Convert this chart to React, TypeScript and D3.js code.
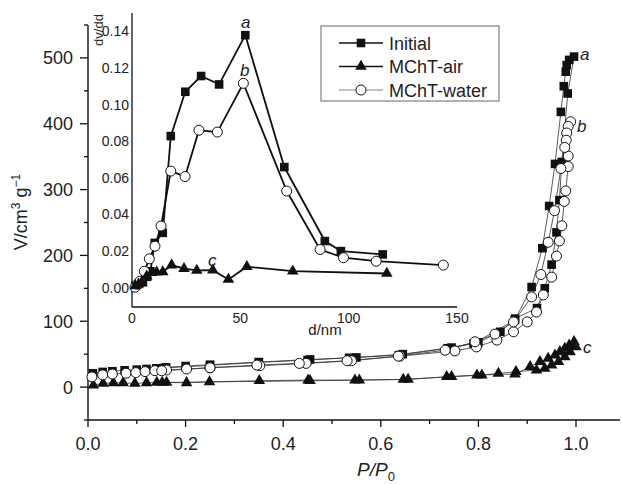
import * as d3 from "d3";

// isotherms: [P/P0, V] in measurement order (adsorption, then desorption)
const initialIso: [number, number][] = [
  [0.01, 21], [0.03, 23], [0.05, 24], [0.075, 25.5], [0.1, 26.5], [0.12, 27.5],
  [0.14, 28.5], [0.16, 30], [0.2, 32], [0.25, 34], [0.35, 38], [0.455, 42],
  [0.55, 45], [0.645, 50], [0.745, 60], [0.8, 68], [0.845, 84], [0.875, 104],
  [0.92, 120], [0.936, 150], [0.95, 186], [0.96, 235], [0.966, 284], [0.971, 342],
  [0.983, 446], [0.996, 502],
  [0.986, 497], [0.981, 489], [0.979, 479], [0.975, 457], [0.969, 418], [0.957, 339],
  [0.945, 275], [0.931, 211], [0.909, 152], [0.875, 102], [0.79, 66], [0.737, 59],
  [0.637, 48.5], [0.535, 44.5], [0.45, 41], [0.35, 37.5], [0.25, 33], [0.155, 29],
];

const airIso: [number, number][] = [
  [0.011, 3], [0.031, 5.6], [0.052, 6.5], [0.072, 6.5], [0.096, 5.6], [0.12, 6.5],
  [0.141, 7], [0.161, 7], [0.202, 6.5], [0.249, 8], [0.351, 9.6], [0.451, 10.6],
  [0.547, 10.6], [0.646, 11.7], [0.745, 15.7], [0.807, 18.2], [0.841, 20.8],
  [0.877, 23.3], [0.919, 25.8], [0.936, 28.4], [0.95, 33.4], [0.964, 38.5],
  [0.977, 46], [0.988, 53.6], [1.0, 61],
  [0.996, 69], [0.986, 63.8], [0.977, 58.8], [0.967, 53.6], [0.957, 48.6],
  [0.943, 43.6], [0.926, 38.5], [0.906, 30.9], [0.875, 19.8], [0.797, 18.2],
  [0.735, 15.7], [0.656, 11.7], [0.556, 10.6], [0.455, 9.6], [0.152, 7],
];

const waterIso: [number, number][] = [
  [0.008, 15.5], [0.03, 18.5], [0.05, 19.8], [0.078, 21], [0.098, 22], [0.117, 23.5],
  [0.137, 25], [0.161, 26], [0.202, 27.4], [0.25, 29.4], [0.352, 32.4], [0.447, 36],
  [0.54, 40], [0.639, 47], [0.752, 55], [0.796, 61], [0.838, 71.4], [0.872, 84],
  [0.9, 99], [0.919, 114], [0.933, 140], [0.95, 167], [0.96, 199], [0.966, 222],
  [0.971, 245], [0.976, 282], [0.979, 298], [0.984, 335], [0.984, 351], [0.989, 403],
  [0.984, 396], [0.981, 386], [0.98, 375], [0.977, 364], [0.969, 332], [0.956, 268],
  [0.943, 220], [0.928, 171], [0.909, 137], [0.872, 99], [0.834, 80.5], [0.793, 68.8],
  [0.732, 56], [0.636, 47], [0.531, 40], [0.433, 36], [0.346, 33.4], [0.25, 29.4],
  [0.151, 24.8],
];

// pore size distributions: [d/nm, dv/dd]
const initialPsd: [number, number][] = [
  [1.5, 0.001], [3, 0.002], [5, 0.003], [7, 0.006], [8.5, 0.009], [10.5, 0.0245],
  [14.2, 0.03], [17.9, 0.0828], [24.6, 0.107], [31.9, 0.1156], [40.2, 0.111],
  [52.3, 0.1379], [70.3, 0.0659], [89, 0.0255], [96.4, 0.02], [115.7, 0.0182],
];

const airPsd: [number, number][] = [
  [1.5, 0.001], [3, 0.002], [4.5, 0.003], [6.8, 0.0063], [9.1, 0.0082], [11.4, 0.0085],
  [14.2, 0.0087], [18.3, 0.0124], [24, 0.0104], [29.9, 0.0095], [37.3, 0.0096],
  [44.5, 0.0045], [53, 0.0115], [74.2, 0.0091], [117.6, 0.0078],
];

const waterPsd: [number, number][] = [
  [1.4, 0.0003], [2.5, 0.002], [3.7, 0.0036], [5.7, 0.009], [8, 0.0158], [10.6, 0.0227],
  [13.4, 0.0337], [17.9, 0.0637], [24.5, 0.0607], [30.9, 0.086], [39.4, 0.085],
  [51.4, 0.1116], [71.4, 0.0528], [86.8, 0.0209], [97.6, 0.0164], [112.7, 0.0145],
  [143.7, 0.0124],
];

const xMajor = [0, 0.2, 0.4, 0.6, 0.8, 1.0];
const xMinor = [0.1, 0.3, 0.5, 0.7, 0.9];
const yMajor = [0, 100, 200, 300, 400, 500];
const yMinor = [-50, 50, 150, 250, 350, 450, 550];
const insetXTicks = [0, 50, 100, 150];
const insetYTicks = [0, 0.02, 0.04, 0.06, 0.08, 0.1, 0.12, 0.14];

const legendItems = [
  { label: "Initial", marker: "square", thick: true },
  { label: "MChT-air", marker: "triangle", thick: true },
  { label: "MChT-water", marker: "circle", thick: false },
];

const FONT = "Liberation Sans, Arial, Helvetica, sans-serif";

function Marker({ type, cx, cy, s = 1 }: { type: string; cx: number; cy: number; s?: number }) {
  if (type === "square") {
    const w = 8.6 * s;
    return <rect x={cx - w / 2} y={cy - w / 2} width={w} height={w} fill="#111" />;
  }
  if (type === "triangle") {
    const p = d3.symbol(d3.symbolTriangle, 58 * s * s)()!;
    return <path d={p} transform={`translate(${cx},${cy})`} fill="#111" />;
  }
  return <circle cx={cx} cy={cy} r={5 * s} fill="#fff" stroke="#111" strokeWidth={1} />;
}

export default function App() {
  const W = 622;
  const H = 484;

  // main plot scales
  const x = d3.scaleLinear().domain([0, 1.09]).range([88, 88 + 1.09 * 488]);
  const y = d3.scaleLinear().domain([-50, 550]).range([420, 25]);

  // inset scales
  const ix = d3.scaleLinear().domain([0, 150]).range([132, 457]);
  const iy = d3.scaleLinear().domain([-0.0105, 0.15]).range([307, 13]);

  const line = d3.line<[number, number]>().x((d) => x(d[0])).y((d) => y(d[1]));
  const iline = d3.line<[number, number]>().x((d) => ix(d[0])).y((d) => iy(d[1]));

  const mainSeries = [
    { data: airIso, marker: "triangle" },
    { data: initialIso, marker: "square" },
    { data: waterIso, marker: "circle" },
  ];
  const insetSeries = [
    { data: initialPsd, marker: "square" },
    { data: waterPsd, marker: "circle" },
    { data: airPsd, marker: "triangle" },
  ];

  const x0 = x.range()[0];
  const yBase = y(-50);

  return (
    <svg
      width={W}
      height={H}
      style={{ position: "absolute", left: 0, top: 0, background: "#fff" }}
      fontFamily={FONT}
    >
      <rect width={W} height={H} fill="#fff" />

      {/* main axes */}
      <line x1={x0} x2={x0} y1={y(550)} y2={yBase} stroke="#111" strokeWidth={1.4} />
      <line x1={x0} x2={x.range()[1]} y1={yBase} y2={yBase} stroke="#111" strokeWidth={1.4} />
      {yMajor.map((t) => (
        <g key={`ym${t}`}>
          <line x1={x0 - 8} x2={x0} y1={y(t)} y2={y(t)} stroke="#111" strokeWidth={1.3} />
          <text x={x0 - 15} y={y(t) + 6.5} textAnchor="end" fontSize={18} fill="#222">
            {t}
          </text>
        </g>
      ))}
      {yMinor.map((t) => (
        <line key={`yn${t}`} x1={x0 - 4} x2={x0} y1={y(t)} y2={y(t)} stroke="#111" strokeWidth={1.3} />
      ))}
      {xMajor.map((t) => (
        <g key={`xm${t}`}>
          <line x1={x(t)} x2={x(t)} y1={yBase} y2={yBase + 7} stroke="#111" strokeWidth={1.3} />
          <text x={x(t)} y={yBase + 30} textAnchor="middle" fontSize={18} fill="#222">
            {t.toFixed(1)}
          </text>
        </g>
      ))}
      {xMinor.map((t) => (
        <line key={`xn${t}`} x1={x(t)} x2={x(t)} y1={yBase} y2={yBase + 4} stroke="#111" strokeWidth={1.3} />
      ))}

      {/* axis titles */}
      <text transform="translate(27,212) rotate(-90)" textAnchor="middle" fontSize={18} fill="#222">
        V/cm<tspan dy={-7} fontSize={12}>3</tspan>
        <tspan dy={7}> g</tspan>
        <tspan dy={-7} fontSize={12}>−1</tspan>
      </text>
      <text x={357} y={476} fontSize={19} fontStyle="italic" fill="#222">
        P/P<tspan dy={5} fontSize={13} fontStyle="normal">0</tspan>
      </text>

      {/* main series */}
      {mainSeries.map((s, i) => (
        <path key={`ml${i}`} d={line(s.data)!} fill="none" stroke="#333" strokeWidth={0.8} />
      ))}
      {mainSeries.map((s, i) =>
        s.data.map((d, j) => <Marker key={`mm${i}-${j}`} type={s.marker} cx={x(d[0])} cy={y(d[1])} />)
      )}
      <text x={580} y={60} fontSize={17} fontStyle="italic" fill="#222">a</text>
      <text x={577} y={132} fontSize={17} fontStyle="italic" fill="#222">b</text>
      <text x={583} y={353} fontSize={17} fontStyle="italic" fill="#222">c</text>

      {/* inset */}
      <line x1={ix(0)} x2={ix(0)} y1={iy(0.15)} y2={iy(-0.0105)} stroke="#111" strokeWidth={1.3} />
      <line x1={ix(0)} x2={ix(150)} y1={iy(-0.0105)} y2={iy(-0.0105)} stroke="#111" strokeWidth={1.3} />
      {insetYTicks.map((t) => (
        <text key={`iy${t}`} x={ix(0) - 3} y={iy(t) + 5} textAnchor="end" fontSize={14} fill="#222">
          {t.toFixed(2)}
        </text>
      ))}
      {insetXTicks.map((t) => (
        <text key={`ix${t}`} x={ix(t)} y={323} textAnchor="middle" fontSize={14} fill="#222">
          {t}
        </text>
      ))}
      <text x={325} y={335} textAnchor="middle" fontSize={15} fill="#222">d/nm</text>
      <text transform="translate(103,30) rotate(-90)" textAnchor="middle" fontSize={13} fill="#222">
        dv/dd
      </text>
      {insetSeries.map((s, i) => (
        <path key={`il${i}`} d={iline(s.data)!} fill="none" stroke="#111" strokeWidth={1.8} />
      ))}
      {insetSeries.map((s, i) =>
        s.data.map((d, j) => <Marker key={`im${i}-${j}`} type={s.marker} cx={ix(d[0])} cy={iy(d[1])} />)
      )}
      <text x={241} y={28} fontSize={17} fontStyle="italic" fill="#222">a</text>
      <text x={240} y={76} fontSize={17} fontStyle="italic" fill="#222">b</text>
      <text x={208} y={266} fontSize={17} fontStyle="italic" fill="#222">c</text>

      {/* legend */}
      <rect x={321} y={26} width={178} height={75} fill="#fff" stroke="#999" strokeWidth={1.5} />
      {legendItems.map((it, i) => {
        const ly = 43 + i * 23.5;
        return (
          <g key={it.label}>
            <line
              x1={339}
              x2={383}
              y1={ly}
              y2={ly}
              stroke={it.thick ? "#111" : "#777"}
              strokeWidth={it.thick ? 1.4 : 0.9}
            />
            <Marker type={it.marker} cx={361} cy={ly} />
            <text x={389} y={ly + 6.5} fontSize={18} fill="#222">
              {it.label}
            </text>
          </g>
        );
      })}
    </svg>
  );
}
